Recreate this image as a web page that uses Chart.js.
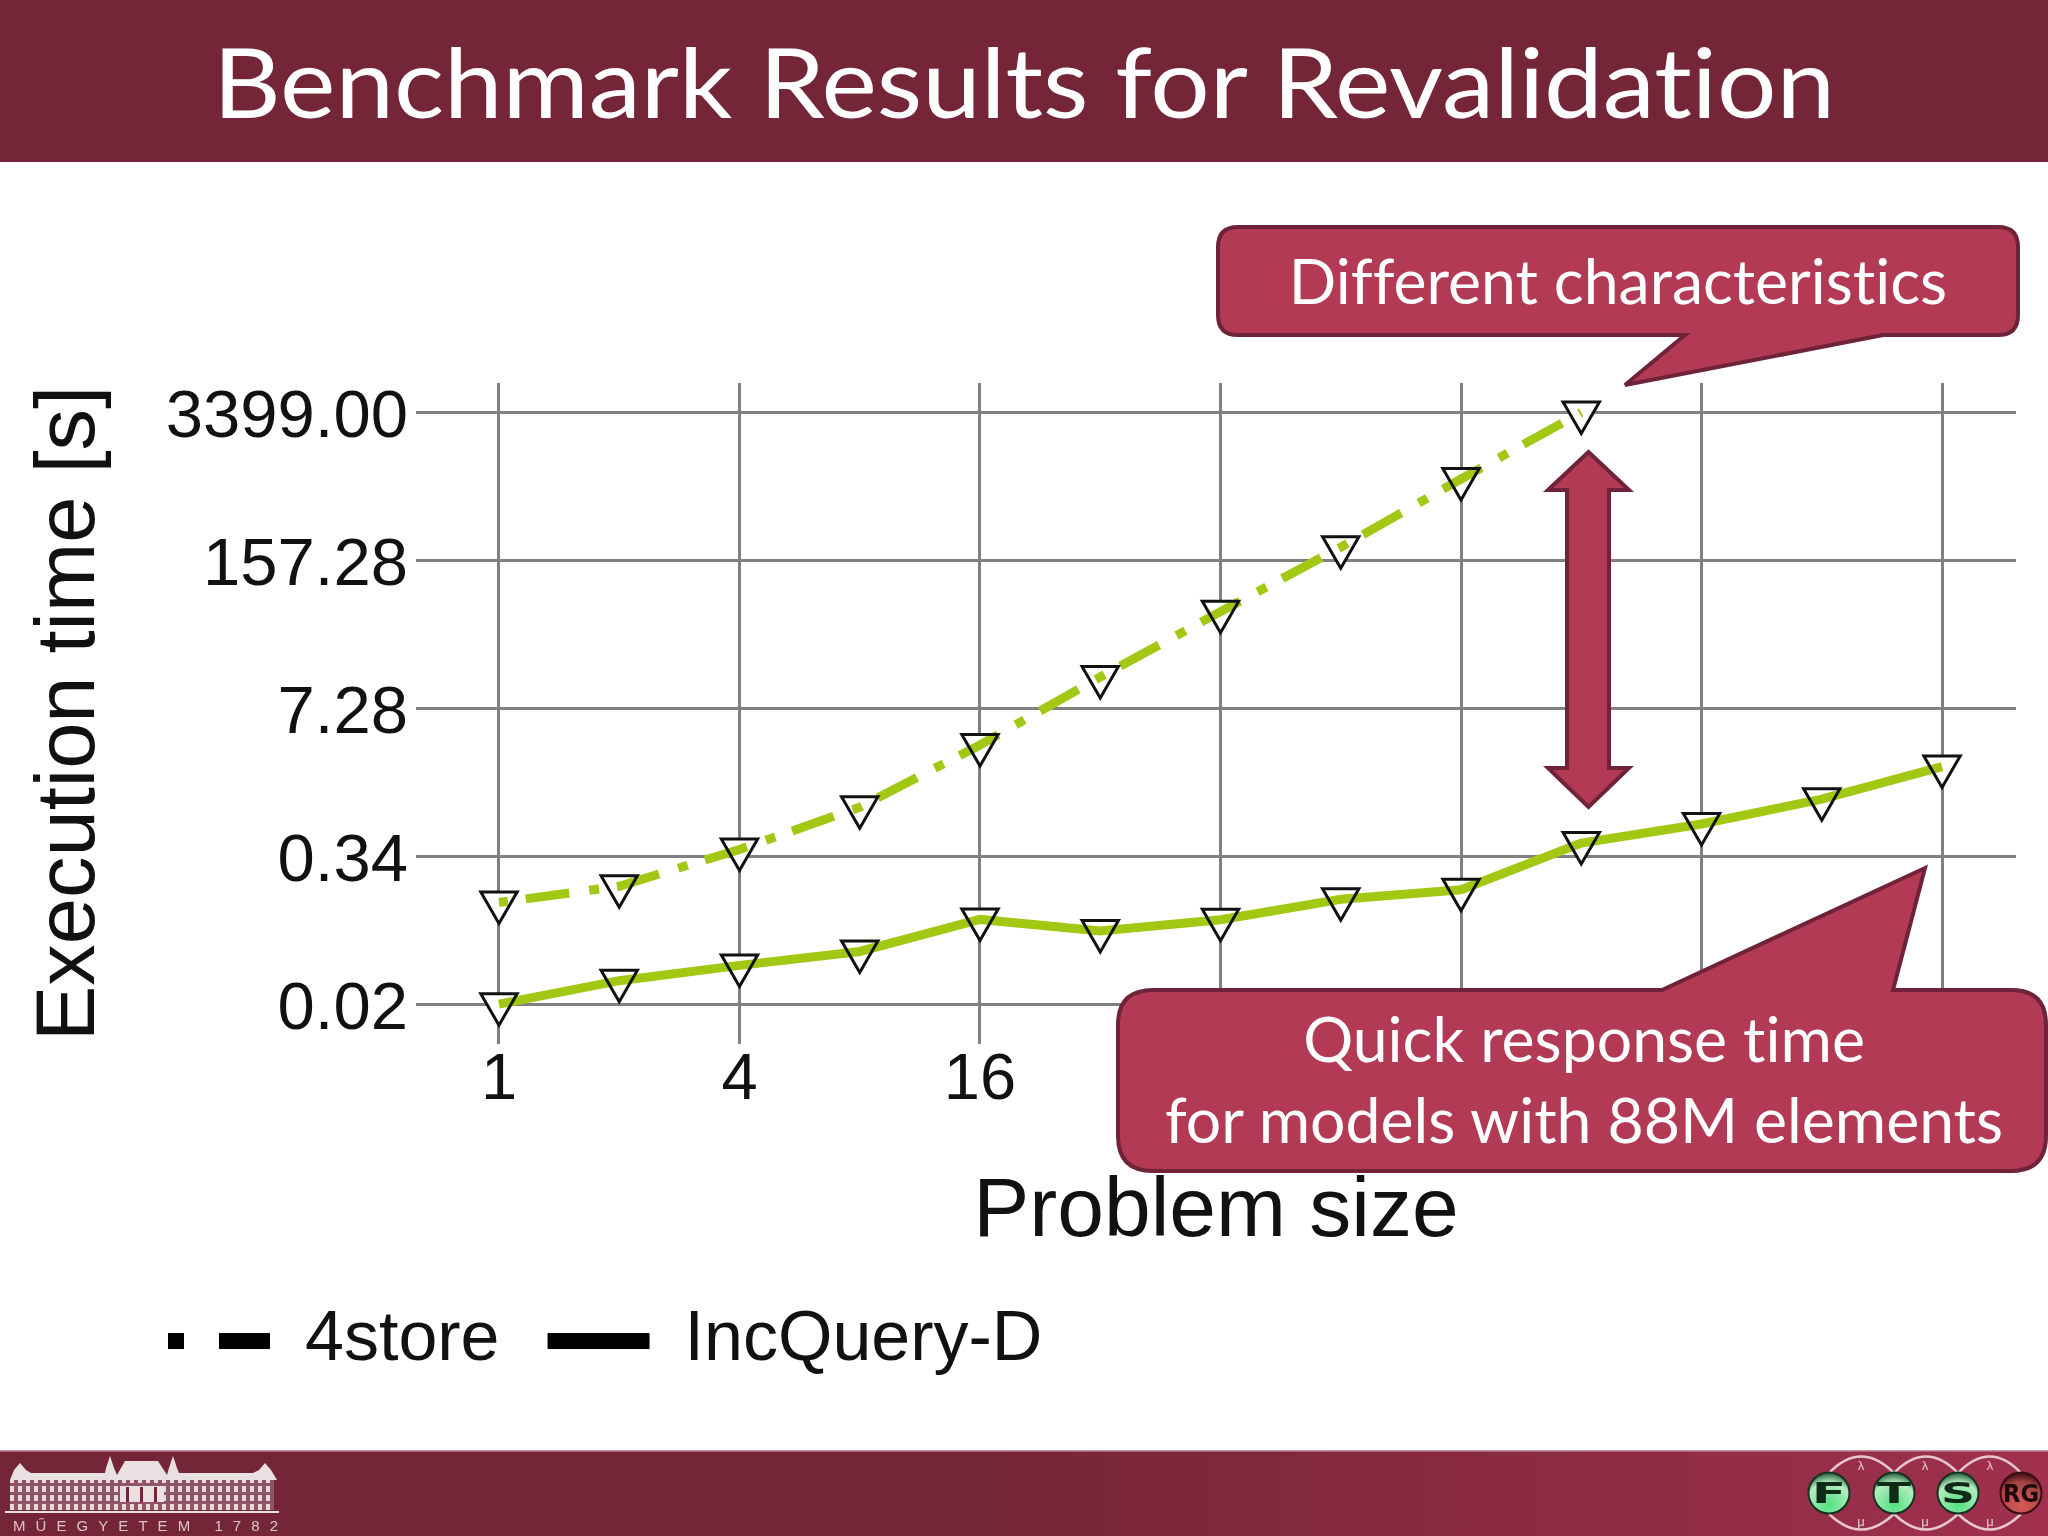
<!DOCTYPE html>
<html><head><meta charset="utf-8">
<style>
html,body{margin:0;padding:0;background:#fff;width:2048px;height:1536px;overflow:hidden}
#wrap{position:relative;width:2048px;height:1536px}
canvas{position:absolute;left:0;top:0}
svg{position:absolute;left:0;top:0;pointer-events:none}
.c{font-family:Lato,"Open Sans",sans-serif;fill:#fff;text-anchor:middle;font-variant-ligatures:none}
</style>
<script src="https://cdn.jsdelivr.net/npm/chart.js@4/dist/chart.umd.js"></script>
</head><body><div id="wrap">
<canvas id="c" width="2048" height="1536"></canvas>
<svg width="2048" height="1536" viewBox="0 0 2048 1536">
<defs>
<linearGradient id="foot" x1="0" x2="1" y1="0" y2="0"><stop offset="0.48" stop-color="#752538"/><stop offset="1" stop-color="#a0304e"/></linearGradient>
<radialGradient id="gb" cx="0.5" cy="0.8" r="0.8"><stop offset="0" stop-color="#4fe080"/><stop offset="0.7" stop-color="#b5ecc0"/><stop offset="1" stop-color="#1f5a35"/></radialGradient>
<radialGradient id="rb" cx="0.5" cy="0.8" r="0.8"><stop offset="0" stop-color="#d85a58"/><stop offset="0.7" stop-color="#a84445"/><stop offset="1" stop-color="#3a0c10"/></radialGradient>
<pattern id="win" width="8" height="9" patternUnits="userSpaceOnUse"><rect width="8" height="9" fill="#8f5566"/><rect x="2" y="1" width="4" height="6" fill="#e9d9dc"/></pattern>
</defs>
<rect x="0" y="0" width="2048" height="162" fill="#752538"/>
<text class="c" x="1024" y="118" font-size="96" textLength="1622" lengthAdjust="spacingAndGlyphs">Benchmark Results for Revalidation</text>

<rect x="0" y="1450" width="2048" height="86" fill="url(#foot)"/>
<rect x="0" y="1450" width="2048" height="1.5" fill="#c59aa5"/>
<g>
<rect x="10" y="1480" width="264" height="30" fill="url(#win)"/>
<polygon fill="#eadfe1" points="10,1480 14,1470 20,1463 26,1470 31,1473 105,1473 106,1468 110,1456 114,1468 117,1475 125,1461 158,1461 167,1475 169,1468 173,1456 177,1468 179,1473 253,1473 259,1470 265,1463 271,1470 277,1480 253,1480 179,1480 105,1480"/>
<rect x="120" y="1486" width="44" height="16" fill="#eadfe1"/>
<rect x="126" y="1487" width="3" height="15" fill="#752538"/><rect x="140" y="1487" width="3" height="15" fill="#752538"/><rect x="154" y="1487" width="3" height="15" fill="#752538"/>
<rect x="5" y="1511" width="274" height="2" fill="#eadfe1"/>
<text x="13" y="1531" font-family="Liberation Sans" font-size="15" fill="#d9c6cb" textLength="265">MŰEGYETEM 1782</text>
</g>
<g fill="none" stroke="#e6c9d0" stroke-width="2.5">
<path d="M1829 1473 Q1861 1440 1894 1473 Q1926 1440 1958 1473 Q1990 1440 2021 1473"/>
<path d="M1829 1514 Q1861 1545 1894 1514 Q1926 1545 1958 1514 Q1990 1545 2021 1514"/>
</g>
<g font-family="Liberation Sans" font-size="13" fill="#e6c9d0" text-anchor="middle">
<text x="1861" y="1470">λ</text><text x="1925" y="1470">λ</text><text x="1990" y="1470">λ</text>
<text x="1861" y="1526">μ</text><text x="1925" y="1526">μ</text><text x="1990" y="1526">μ</text>
</g>
<g stroke="#12331f" stroke-width="2">
<circle cx="1829" cy="1493" r="20.5" fill="url(#gb)"/><circle cx="1894" cy="1493" r="20.5" fill="url(#gb)"/><circle cx="1958" cy="1493" r="20.5" fill="url(#gb)"/><circle cx="2021" cy="1493" r="20.5" fill="url(#rb)" stroke="#3a0d12"/>
</g>
<g font-family="DejaVu Sans" font-weight="bold" fill="#102a18" text-anchor="middle">
<text x="1829" y="1503" font-size="28" textLength="34" lengthAdjust="spacingAndGlyphs">F</text>
<text x="1894" y="1503" font-size="28" textLength="34" lengthAdjust="spacingAndGlyphs">T</text>
<text x="1958" y="1503" font-size="28" textLength="34" lengthAdjust="spacingAndGlyphs">S</text>
<text x="2021" y="1502" font-size="25" textLength="36" lengthAdjust="spacingAndGlyphs" fill="#1c0a0c">RG</text>
</g>

<path d="M1238 227 H1998 Q2018 227 2018 247 V315 Q2018 335 1998 335 H1883 L1625 385 L1685 335 H1238 Q1218 335 1218 315 V247 Q1218 227 1238 227 Z" fill="#b33a55" stroke="#6f2338" stroke-width="4"/>
<text class="c" x="1618" y="304" font-size="62.5">Different characteristics</text>

<path d="M1588.5 452 L1629 490 H1609 V768 H1629 L1588.5 807 L1548 768 H1567 V490 H1548 Z" fill="#b33a55" stroke="#6f2338" stroke-width="4"/>

<path d="M1153 990 H1662 L1925 868 L1893 990 H2011 Q2046 990 2046 1025 V1136 Q2046 1171 2011 1171 H1153 Q1118 1171 1118 1136 V1025 Q1118 990 1153 990 Z" fill="#b33a55" stroke="#6f2338" stroke-width="4"/>
<text class="c" x="1584" y="1062" font-size="62.5">Quick response time</text>
<text class="c" x="1584" y="1143" font-size="62.5">for models with 88M elements</text>
</svg>
</div>
<script>
const sizes = [1,2,4,8,16,32,64,128,256,512,1024,2048,4096];
const store4Values = [0.1288,0.1807,0.3875,0.934,3.40,13.94,54.2,206.7,852,3399];
const incQueryValues = [0.0156,0.0254,0.0349,0.0466,0.0907,0.0713,0.0901,0.1377,0.168,0.4426,0.658,1.103,2.168];
const xTicks = [1,4,16,64,256,1024,4096];
const xTickLabels = ['1','4','16','64','256','1024','4096'];
const yTicks = [0.01558,0.3366,7.28,157.28,3399];
const yTickLabels = ['0.02','0.34','7.28','157.28','3399.00'];
const seriesNames = ['4store','IncQuery-D'];

const GREEN = '#a3c814', GRID = '#808080', FONT = '"Liberation Sans", Arial, sans-serif';
const pts = vals => vals.map((y,i)=>({x:sizes[i],y}));

const whiteUnder = {
  id:'whiteUnder',
  beforeDatasetsDraw(chart){
    const ctx = chart.ctx;
    chart.data.datasets.forEach((d,i)=>{
      chart.getDatasetMeta(i).data.forEach(p=>{
        const r = d.pointRadius;
        ctx.save();ctx.fillStyle='#fff';ctx.beginPath();
        ctx.moveTo(p.x-r*0.866,p.y-r/2);ctx.lineTo(p.x+r*0.866,p.y-r/2);ctx.lineTo(p.x,p.y+r);ctx.closePath();ctx.fill();ctx.restore();
      });
    });
  },
  afterLayout(chart){
    const l = chart.legend;
    l.left = 120; l.right = 2048; l.top = 1258; l.bottom = 1408;
  }
};

new Chart(document.getElementById('c'),{
  type:'line',
  plugins:[whiteUnder],
  data:{datasets:[
    {label:seriesNames[0],data:pts(store4Values),borderColor:GREEN,borderWidth:9,borderDash:[44,20,10,18],borderDashOffset:65,borderCapStyle:'butt',
     pointStyle:'triangle',rotation:180,pointRadius:21,pointBorderWidth:3,pointBorderColor:'#111',pointBackgroundColor:'rgba(0,0,0,0)',tension:0,fill:false},
    {label:seriesNames[1],data:pts(incQueryValues),borderColor:GREEN,borderWidth:9,
     pointStyle:'triangle',rotation:180,pointRadius:21,pointBorderWidth:3,pointBorderColor:'#111',pointBackgroundColor:'rgba(0,0,0,0)',tension:0,fill:false}
  ]},
  options:{
    responsive:false,animation:false,devicePixelRatio:1,
    events:[],
    layout:{padding:{left:0,top:383,right:32,bottom:0}},
    scales:{
      x:{type:'logarithmic',position:'bottom',bounds:'data',min:0.6199,max:6274,
        afterBuildTicks:s=>{s.ticks=xTicks.map(value=>({value}));},
        afterFit:s=>{s.height=364;},
        grid:{color:GRID,lineWidth:3,drawTicks:false},border:{display:false},
        ticks:{autoSkip:false,maxRotation:0,minRotation:0,padding:-2,color:'#111',font:{family:FONT,size:65},
          callback:(v,i)=>xTickLabels[i]},
        title:{display:true,text:'Problem size',color:'#111',font:{family:FONT,size:84},padding:{top:0,bottom:145}}
      },
      y:{type:'logarithmic',position:'left',bounds:'data',min:0.006817,max:6260,
        afterBuildTicks:s=>{s.ticks=yTicks.map(value=>({value}));},
        afterFit:s=>{s.width=416;},
        grid:{color:GRID,lineWidth:3,drawTicks:false},border:{display:false},
        ticks:{autoSkip:false,padding:8,labelOffset:6,color:'#111',font:{family:FONT,size:67},
          callback:(v,i)=>yTickLabels[i]},
        title:{display:true,text:'Execution time [s]',color:'#111',font:{family:FONT,size:83},padding:{top:21,bottom:0}}
      }
    },
    plugins:{
      tooltip:{enabled:false},
      title:{display:false},
      legend:{display:true,position:'bottom',align:'start',
        labels:{usePointStyle:true,pointStyleWidth:102,padding:48,color:'#111',font:{family:FONT,size:70},
          generateLabels:()=>[
            {text:seriesNames[0],strokeStyle:'#000',fillStyle:'#000',fontColor:'#111',lineWidth:16,lineDash:[16,35,52,35],pointStyle:'line',hidden:false,datasetIndex:0},
            {text:seriesNames[1],strokeStyle:'#000',fillStyle:'#000',fontColor:'#111',lineWidth:16,lineDash:[],pointStyle:'line',hidden:false,datasetIndex:1}
          ]}
      }
    }
  }
});
</script>
</body></html>
